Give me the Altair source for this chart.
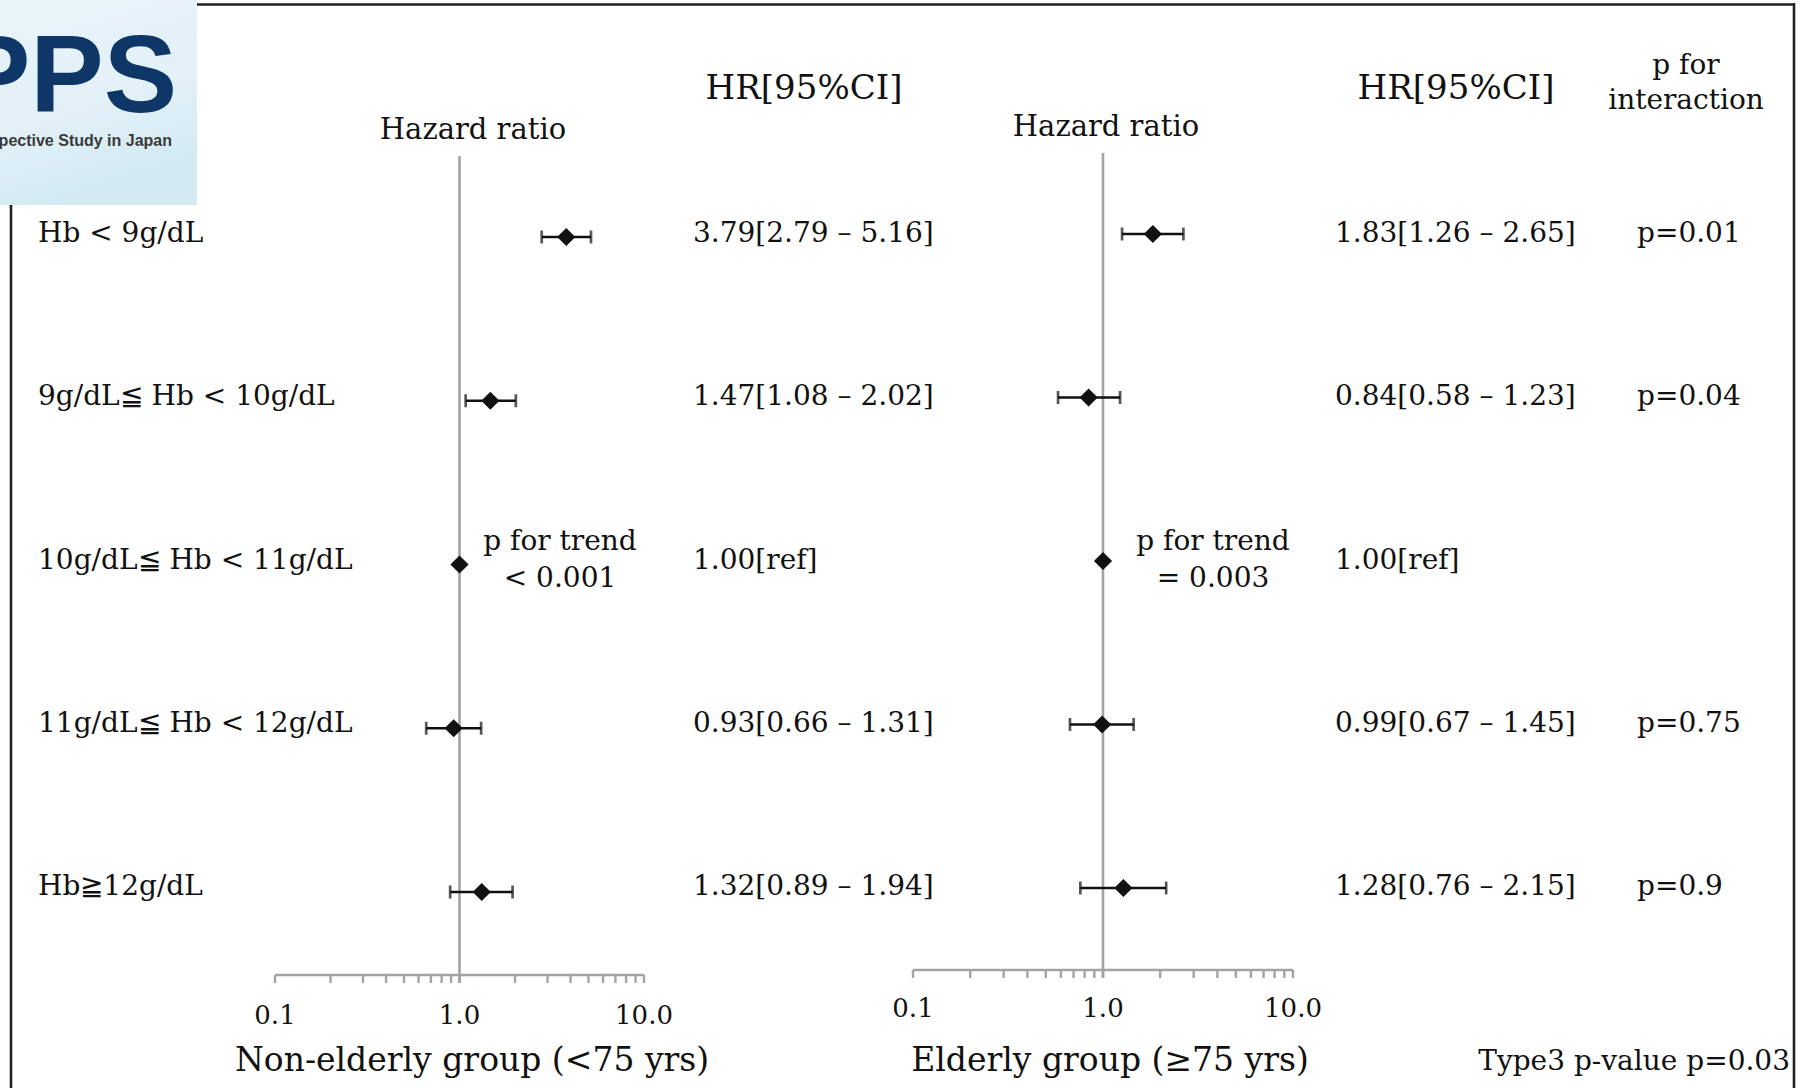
import altair as alt
import pandas as pd

# ---------------- data ----------------
row_labels = ["Hb < 9g/dL", "9g/dL≦ Hb < 10g/dL", "10g/dL≦ Hb < 11g/dL",
              "11g/dL≦ Hb < 12g/dL", "Hb≧12g/dL"]

young_hr = [3.79, 1.47, 1.00, 0.93, 1.32]
young_lo = [2.79, 1.08, None, 0.66, 0.89]
young_hi = [5.16, 2.02, None, 1.31, 1.94]
young_txt = ["3.79[2.79 – 5.16]", "1.47[1.08 – 2.02]", "1.00[ref]",
             "0.93[0.66 – 1.31]", "1.32[0.89 – 1.94]"]

old_hr = [1.83, 0.84, 1.00, 0.99, 1.28]
old_lo = [1.26, 0.58, None, 0.67, 0.76]
old_hi = [2.65, 1.23, None, 1.45, 2.15]
old_txt = ["1.83[1.26 – 2.65]", "0.84[0.58 – 1.23]", "1.00[ref]",
           "0.99[0.67 – 1.45]", "1.28[0.76 – 2.15]"]

p_interaction = ["p=0.01", "p=0.04", "", "p=0.75", "p=0.9"]

minor_ticks = [0.1, 0.2, 0.3, 0.4, 0.5, 0.6, 0.7, 0.8, 0.9,
               1, 2, 3, 4, 5, 6, 7, 8, 9, 10]
tick_values = [0.1, 1.0, 10.0]
tick_text = ["0.1", "1.0", "10.0"]

FONT = "DejaVu Serif"
GRAY = "#a3a3a3"
BLACK = "#111111"

rows_idx = list(range(len(row_labels)))


def panel(hr, lo, hi, xr, yr, axis_y, tick_len, label_y, ref_top):
    df = pd.DataFrame({"row": rows_idx, "hr": hr, "lo": lo, "hi": hi})
    xs = alt.Scale(type="log", domain=[0.1, 10], range=xr, nice=False)
    ys = alt.Scale(domain=[0, 4], range=yr, nice=False, zero=False)
    layers = []
    # axis line
    ax = pd.DataFrame({"a": [0.1], "b": [10.0]})
    layers.append(alt.Chart(ax).mark_rule(color=GRAY, strokeWidth=2.6).encode(
        x=alt.X("a:Q", scale=xs, axis=None), x2="b:Q",
        y=alt.value(axis_y)))
    # minor ticks
    tk = pd.DataFrame({"v": minor_ticks})
    layers.append(alt.Chart(tk).mark_rule(color=GRAY, strokeWidth=2.4).encode(
        x=alt.X("v:Q", scale=xs, axis=None),
        y=alt.value(axis_y), y2=alt.value(axis_y + tick_len)))
    # reference line at 1
    rf = pd.DataFrame({"v": [1.0]})
    layers.append(alt.Chart(rf).mark_rule(color=GRAY, strokeWidth=2.6).encode(
        x=alt.X("v:Q", scale=xs, axis=None),
        y=alt.value(ref_top), y2=alt.value(axis_y + tick_len)))
    # tick labels
    tl = pd.DataFrame({"v": tick_values, "t": tick_text})
    layers.append(alt.Chart(tl).mark_text(font=FONT, fontSize=26, color=BLACK,
                                          baseline="middle").encode(
        x=alt.X("v:Q", scale=xs, axis=None), y=alt.value(label_y), text="t:N"))
    # CI lines
    ci = alt.Chart(df).transform_filter("isValid(datum.lo)")
    layers.append(ci.mark_rule(color=BLACK, strokeWidth=2.5).encode(
        x=alt.X("lo:Q", scale=xs, axis=None), x2="hi:Q",
        y=alt.Y("row:Q", scale=ys, axis=None)))
    layers.append(ci.mark_tick(color=BLACK, orient="vertical", size=13,
                               thickness=2.7).encode(
        x=alt.X("lo:Q", scale=xs, axis=None),
        y=alt.Y("row:Q", scale=ys, axis=None)))
    layers.append(ci.mark_tick(color=BLACK, orient="vertical", size=13,
                               thickness=2.7).encode(
        x=alt.X("hi:Q", scale=xs, axis=None),
        y=alt.Y("row:Q", scale=ys, axis=None)))
    # point estimates
    layers.append(alt.Chart(df).mark_point(shape="diamond", filled=True, size=330,
                                           color=BLACK, opacity=1).encode(
        x=alt.X("hr:Q", scale=xs, axis=None),
        y=alt.Y("row:Q", scale=ys, axis=None)))
    return layers


def text_col(texts, x, yr, size=28, align="left"):
    df = pd.DataFrame({"row": rows_idx, "t": texts})
    ys = alt.Scale(domain=[0, 4], range=yr, nice=False, zero=False)
    return alt.Chart(df).mark_text(font=FONT, fontSize=size, color=BLACK,
                                   align=align, baseline="middle").encode(
        x=alt.value(x), y=alt.Y("row:Q", scale=ys, axis=None), text="t:N")


def label(t, x, y, size=28, align="center", font=FONT, color=BLACK, weight="normal"):
    return alt.Chart(pd.DataFrame({"t": [t]})).mark_text(
        font=font, fontSize=size, color=color, align=align, baseline="middle",
        fontWeight=weight).encode(x=alt.value(x), y=alt.value(y), text="t:N")


layers = []

# logo
logo_grad = alt.LinearGradient(
    gradient="linear", x1=0, y1=0, x2=0.3, y2=1,
    stops=[alt.GradientStop(color="#eaf4fb", offset=0),
           alt.GradientStop(color="#e2f0f8", offset=0.6),
           alt.GradientStop(color="#d2eaf1", offset=1)])
layers.append(alt.Chart(pd.DataFrame({"a": [0]})).mark_rect(color=logo_grad).encode(
    x=alt.value(0), x2=alt.value(197), y=alt.value(0), y2=alt.value(205)))
layers.append(alt.Chart(pd.DataFrame({"t": ["PPS"]})).mark_text(
    font="Liberation Sans", fontSize=110, fontWeight="bold", color="#0e3768",
    align="right", baseline="alphabetic").encode(
    x=alt.value(177), y=alt.value(112), text="t:N"))
layers.append(alt.Chart(pd.DataFrame({"t": ["Prospective Study in Japan"]})).mark_text(
    font="Liberation Sans", fontSize=16, fontWeight="bold", color="#3a3a3a",
    align="right", baseline="middle").encode(
    x=alt.value(172), y=alt.value(141), text="t:N"))

# frame
layers.append(alt.Chart(pd.DataFrame({"a": [0]})).mark_rule(color="#222222", strokeWidth=2.6).encode(
    x=alt.value(197), x2=alt.value(1795), y=alt.value(4.5)))
layers.append(alt.Chart(pd.DataFrame({"a": [0]})).mark_rule(color="#222222", strokeWidth=2.6).encode(
    x=alt.value(1794), y=alt.value(3), y2=alt.value(1088)))
layers.append(alt.Chart(pd.DataFrame({"a": [0]})).mark_rule(color="#222222", strokeWidth=2.6).encode(
    x=alt.value(11), y=alt.value(205), y2=alt.value(1088)))

# panels
layers += panel(young_hr, young_lo, young_hi, [275, 644], [237, 892],
                975, 8, 1016, 156)
layers += panel(old_hr, old_lo, old_hi, [913, 1293], [234, 888],
                970, 8, 1009, 153)

# text columns
layers.append(text_col(row_labels, 38, [234, 887]))
layers.append(text_col(young_txt, 693, [234, 887]))
layers.append(text_col(old_txt, 1335, [234, 887]))
layers.append(text_col(p_interaction, 1637, [234, 887]))

# headers
layers.append(label("Hazard ratio", 473, 130, 29))
layers.append(label("Hazard ratio", 1106, 127, 29))
layers.append(label("HR[95%CI]", 804, 89, 34))
layers.append(label("HR[95%CI]", 1456, 89, 34))
layers.append(label("p for", 1686, 66, 28))
layers.append(label("interaction", 1686, 101, 28))

# trend p-values
layers.append(label("p for trend", 560, 542, 28))
layers.append(label("< 0.001", 560, 579, 28))
layers.append(label("p for trend", 1213, 542, 28))
layers.append(label("= 0.003", 1213, 579, 28))

# axis titles
layers.append(label("Non-elderly group (<75 yrs)", 472, 1061, 33))
layers.append(label("Elderly group (≥75 yrs)", 1110, 1061, 33))
layers.append(label("Type3 p-value p=0.03", 1790, 1062, 28, align="right"))

chart = alt.layer(*layers).resolve_scale(x="independent", y="independent").properties(
    width=1808, height=1088, padding=0,
    autosize=alt.AutoSizeParams(type="none"),
    background="white",
).configure_view(stroke=None)

chart.save("out.html", embed_options={"renderer": "svg", "actions": False})
